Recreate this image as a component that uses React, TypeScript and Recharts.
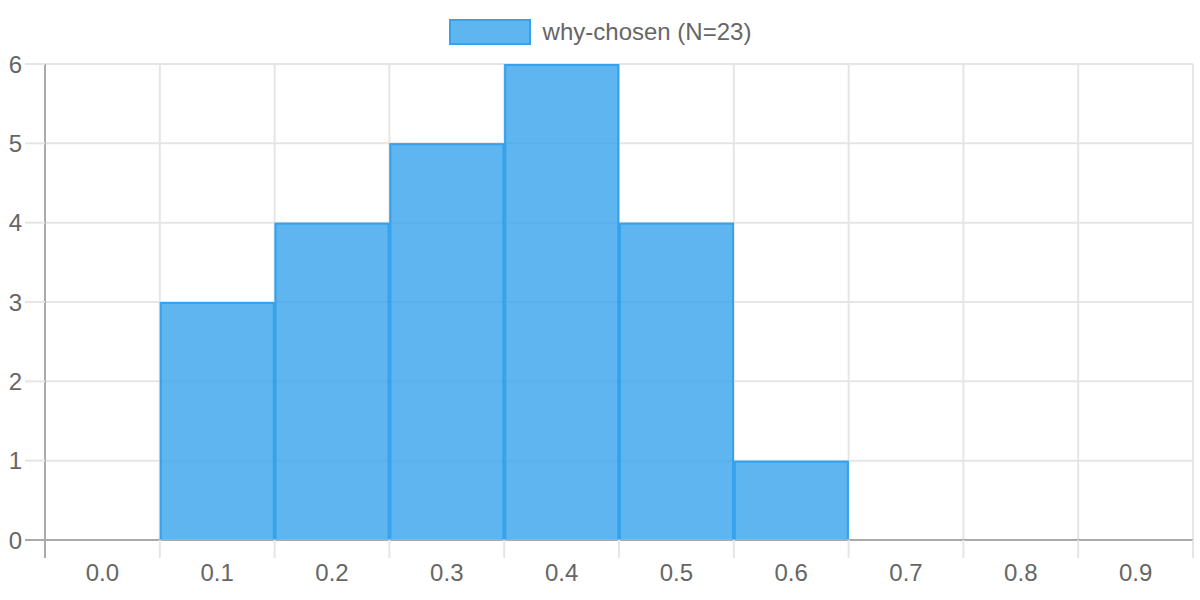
import { BarChart, Bar, XAxis, YAxis, CartesianGrid, Legend } from 'recharts';

const bins = ['0.0', '0.1', '0.2', '0.3', '0.4', '0.5', '0.6', '0.7', '0.8', '0.9'];
const counts = [0, 3, 4, 5, 6, 4, 1, 0, 0, 0];
const yTicks = [0, 1, 2, 3, 4, 5, 6];
const seriesName = 'why-chosen (N=23)';

const data = bins.map((bin, i) => ({ bin, count: counts[i] }));

const BLUE = '#36A2EB';
const GRID = '#e5e5e5';
const AXIS = '#aaaaaa';
const TEXT = '#666666';
const FONT = '"Liberation Sans", Arial, Helvetica, sans-serif';

// chart.js style bar: border inside the rect, no bottom border
function HistBar(props: any) {
  const { x, y, width, height } = props;
  if (!height || height <= 0) return null;
  const b = 1;
  const d = `M${x + b},${y + height} L${x + b},${y + b} L${x + width - b},${y + b} L${x + width - b},${y + height}`;
  return (
    <g>
      <rect x={x} y={y} width={width} height={height} fill={BLUE} fillOpacity={0.8} />
      <path d={d} fill="none" stroke={BLUE} strokeWidth={2} />
    </g>
  );
}

function XTick(props: any) {
  const { x, y, payload, index, width, visibleTicksCount } = props;
  const half = payload?.offset || width / visibleTicksCount / 2;
  const left = x - half;
  const y0 = y - 24;
  return (
    <g>
      <line x1={left} x2={left} y1={y0} y2={y0 + 18} stroke={index === 0 ? AXIS : GRID} strokeWidth={2} />
      {index === visibleTicksCount - 1 && (
        <line x1={x + half} x2={x + half} y1={y0} y2={y0 + 18} stroke={GRID} strokeWidth={2} />
      )}
      <text x={x} y={y} dy="0.71em" textAnchor="middle" fill={TEXT} fontSize={24} fontFamily={FONT}>
        {payload.value}
      </text>
    </g>
  );
}

function YTick(props: any) {
  const { x, y, payload, index } = props;
  return (
    <g>
      <line x1={x + 3} x2={x + 23} y1={y} y2={y} stroke={index === 0 ? AXIS : GRID} strokeWidth={2} />
      <text x={x} y={y} dy="0.355em" textAnchor="end" fill={TEXT} fontSize={24} fontFamily={FONT}>
        {payload.value}
      </text>
    </g>
  );
}

function LegendBox() {
  return (
    <div
      style={{
        height: 54,
        display: 'flex',
        justifyContent: 'center',
        alignItems: 'flex-start',
        paddingTop: 19,
        boxSizing: 'border-box',
        fontFamily: FONT,
        fontSize: 24,
        color: TEXT,
      }}
    >
      <span
        style={{
          width: 78,
          height: 22,
          background: 'rgba(54,162,235,0.8)',
          border: `2px solid ${BLUE}`,
          marginRight: 12,
        }}
      />
      <span style={{ lineHeight: '26px' }}>{seriesName}</span>
    </div>
  );
}

export default function App() {
  return (
    <div style={{ position: 'absolute', left: 0, top: 0, width: 1200, height: 600, background: '#fff' }}>
      <BarChart
        width={1200}
        height={600}
        data={data}
        margin={{ top: 10, right: 7, left: 0, bottom: 0 }}
        barCategoryGap={0}
        barGap={0}
        style={{ fontFamily: FONT }}
      >
        <CartesianGrid
          stroke={GRID}
          strokeWidth={2}
          verticalCoordinatesGenerator={({ offset }: any) =>
            bins.map((_, i) => offset.left + (i * offset.width) / bins.length).concat(offset.left + offset.width)
          }
        />
        <Legend verticalAlign="top" wrapperStyle={{ top: 0, left: 0, width: 1200 }} content={() => <LegendBox />} />
        <XAxis
          dataKey="bin"
          height={60}
          tickSize={18}
          tickMargin={6}
          tickLine={false}
          axisLine={{ stroke: AXIS, strokeWidth: 2 }}
          interval={0}
          tick={(p: any) => <XTick {...p} />}
        />
        <YAxis
          width={45}
          domain={[0, 6]}
          ticks={yTicks}
          interval={0}
          tickSize={20}
          tickMargin={3}
          tickLine={false}
          axisLine={{ stroke: AXIS, strokeWidth: 2 }}
          tick={(p: any) => <YTick {...p} />}
        />
        <Bar dataKey="count" name={seriesName} shape={(p: any) => <HistBar {...p} />} isAnimationActive={false} />
      </BarChart>
    </div>
  );
}
